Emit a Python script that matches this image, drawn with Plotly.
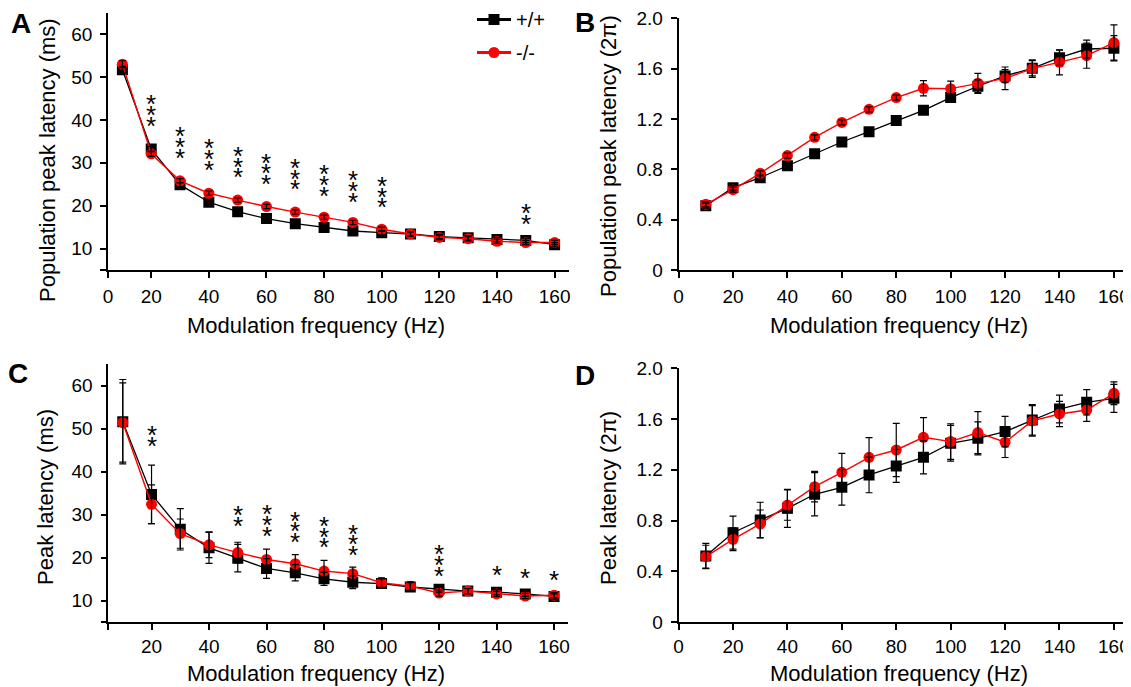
import plotly.graph_objects as go

# ---------------- data ----------------
freqs = [10, 20, 30, 40, 50, 60, 70, 80, 90, 100, 110, 120, 130, 140, 150, 160]

# Panel A: population peak latency (ms)
wt_A = [51.7, 33.2, 24.9, 20.8, 18.6, 17.0, 15.8, 14.9, 14.1, 13.7, 13.4, 12.8, 12.5, 12.1, 11.9, 10.9]
ko_A = [53.0, 32.1, 25.8, 22.9, 21.3, 19.8, 18.5, 17.3, 16.1, 14.5, 13.4, 12.6, 12.3, 11.7, 11.4, 11.4]
wt_A_err = [0.8, 0.6, 0.5, 0.5, 0.5, 0.5, 0.5, 0.5, 0.5, 0.5, 0.5, 0.5, 0.5, 0.5, 0.5, 0.5]
ko_A_err = [0.8, 0.6, 0.5, 0.5, 0.5, 0.5, 0.5, 0.5, 0.5, 0.5, 0.5, 0.5, 0.5, 0.5, 0.5, 0.5]

# Panel B: population peak latency (2pi)
wt_B = [0.511, 0.654, 0.734, 0.829, 0.924, 1.017, 1.099, 1.187, 1.269, 1.370, 1.460, 1.542, 1.603, 1.687, 1.756, 1.762]
ko_B = [0.522, 0.638, 0.768, 0.909, 1.054, 1.173, 1.277, 1.370, 1.444, 1.441, 1.483, 1.523, 1.600, 1.650, 1.703, 1.807]
wt_B_err = [0.02, 0.02, 0.02, 0.02, 0.02, 0.02, 0.02, 0.02, 0.02, 0.03, 0.05, 0.05, 0.06, 0.06, 0.07, 0.10]
ko_B_err = [0.02, 0.02, 0.02, 0.02, 0.02, 0.02, 0.02, 0.02, 0.06, 0.06, 0.08, 0.09, 0.07, 0.10, 0.10, 0.14]

# Panel C: peak latency (ms)
wt_C = [51.6, 34.7, 26.6, 22.3, 19.9, 17.5, 16.5, 15.1, 14.3, 14.0, 13.2, 12.7, 12.25, 12.0, 11.6, 11.0]
ko_C = [51.4, 32.4, 25.6, 23.0, 21.2, 19.6, 18.6, 16.9, 16.3, 14.2, 13.4, 11.8, 12.25, 11.6, 11.1, 11.3]
wt_C_err = [9.8, 6.8, 4.8, 3.6, 3.2, 2.3, 1.9, 1.5, 1.5, 1.1, 1.0, 0.7, 0.6, 0.6, 0.6, 0.6]
ko_C_err = [9.2, 4.5, 3.4, 3.0, 2.4, 2.4, 2.1, 2.5, 1.5, 1.1, 1.0, 0.7, 0.6, 0.6, 0.6, 0.6]

# Panel D: peak latency (2pi)
wt_D = [0.520, 0.704, 0.804, 0.896, 1.007, 1.062, 1.159, 1.230, 1.298, 1.409, 1.448, 1.501, 1.593, 1.679, 1.732, 1.763]
ko_D = [0.515, 0.652, 0.773, 0.922, 1.067, 1.180, 1.298, 1.356, 1.456, 1.422, 1.493, 1.417, 1.585, 1.640, 1.671, 1.803]
wt_D_err = [0.10, 0.13, 0.14, 0.15, 0.17, 0.14, 0.14, 0.13, 0.13, 0.14, 0.13, 0.12, 0.12, 0.11, 0.10, 0.11]
ko_D_err = [0.09, 0.09, 0.11, 0.12, 0.12, 0.15, 0.155, 0.21, 0.155, 0.14, 0.165, 0.12, 0.12, 0.10, 0.09, 0.09]

# significance stars: frequency, number of stars, y of lowest star
sig_A_freq = [20, 30, 40, 50, 60, 70, 80, 90, 100, 150]
sig_A_count = [3, 3, 3, 3, 3, 3, 3, 3, 3, 2]
sig_A_y = [40.0, 32.5, 29.8, 28.0, 26.4, 25.2, 23.7, 22.3, 21.0, 17.1]

sig_C_freq = [20, 50, 60, 70, 80, 90, 120, 140, 150, 160]
sig_C_count = [2, 2, 3, 3, 3, 3, 3, 1, 1, 1]
sig_C_y = [47.3, 28.7, 26.5, 25.0, 23.8, 22.0, 17.2, 17.3, 16.8, 16.3]

# tick labels
ms_ticks = [5, 10, 20, 30, 40, 50, 60]
ms_ticktext = ["", "10", "20", "30", "40", "50", "60"]
pi_ticks = [0, 0.4, 0.8, 1.2, 1.6, 2.0]
pi_ticktext = ["0", "0.4", "0.8", "1.2", "1.6", "2.0"]
fA_ticks = [5, 20, 40, 60, 80, 100, 120, 140, 160]
fA_ticktext = ["0", "20", "40", "60", "80", "100", "120", "140", "160"]
fC_ticktext = ["", "20", "40", "60", "80", "100", "120", "140", "160"]
fB_ticks = [0, 20, 40, 60, 80, 100, 120, 140, 160]
fB_ticktext = ["0", "20", "40", "60", "80", "100", "120", "140", "160"]

WT_NAME = "+/+"
KO_NAME = "-/-"
RED = "#ff0000"
FONT = "Liberation Sans, Arial, Helvetica, sans-serif"

# the page body has an 8px margin, so the figure is drawn 8px smaller
PAGE_OFF = 8
W, H = 1131 - PAGE_OFF, 687 - PAGE_OFF


def px(x):
    return (x - PAGE_OFF) / W


def py(y):
    return 1 - (y - PAGE_OFF) / H


fig = go.Figure()


def add_panel(xa, ya, wt, ko, wt_err, ko_err):
    fig.add_trace(go.Scatter(
        x=freqs, y=wt, mode="lines+markers", showlegend=False,
        line=dict(color="black", width=1.3),
        marker=dict(symbol="square", size=11, color="black"),
        xaxis=xa, yaxis=ya))
    fig.add_trace(go.Scatter(
        x=freqs, y=ko, mode="lines+markers", showlegend=False,
        line=dict(color=RED, width=1.4),
        marker=dict(symbol="circle", size=11, color=RED),
        xaxis=xa, yaxis=ya))
    for vals, err in ((wt, wt_err), (ko, ko_err)):
        fig.add_trace(go.Scatter(
            x=freqs, y=vals, mode="markers", showlegend=False,
            marker=dict(size=1, color="rgba(0,0,0,0)"),
            error_y=dict(type="data", array=err, visible=True,
                         color="black", thickness=1.2, width=3.5),
            xaxis=xa, yaxis=ya))


add_panel("x", "y", wt_A, ko_A, wt_A_err, ko_A_err)
add_panel("x2", "y2", wt_B, ko_B, wt_B_err, ko_B_err)
add_panel("x3", "y3", wt_C, ko_C, wt_C_err, ko_C_err)
add_panel("x4", "y4", wt_D, ko_D, wt_D_err, ko_D_err)

# legend entries
fig.add_trace(go.Scatter(x=[None], y=[None], mode="lines+markers", name=WT_NAME,
                         line=dict(color="black", width=3),
                         marker=dict(symbol="square", size=11, color="black"),
                         legendgroup="wt"))
fig.add_trace(go.Scatter(x=[None], y=[None], mode="lines+markers", name=KO_NAME,
                         line=dict(color=RED, width=3),
                         marker=dict(symbol="circle", size=11, color=RED),
                         legendgroup="ko"))

axis_common = dict(showline=True, linecolor="black", linewidth=1.8,
                   ticks="outside", ticklen=6, tickwidth=1.5, tickcolor="black",
                   showgrid=False, zeroline=False, mirror=False, automargin=False,
                   ticklabeloverflow="allow",
                   tickfont=dict(family=FONT, size=19, color="black"))

# panel pixel boxes in the reference picture: (left, right, top, bottom)
boxes = {
    "A": (108, 569, 12.7, 270),
    "B": (678.6, 1127.5, 18.3, 270),
    "C": (108.4, 568.4, 364, 622.3),
    "D": (678.6, 1127.5, 368.3, 622),
}


def dom_x(b):
    return [px(b[0]), px(b[1])]


def dom_y(b):
    return [py(b[3]), py(b[2])]


fig.update_layout(
    xaxis=dict(axis_common, domain=dom_x(boxes["A"]), anchor="y", range=[5, 165],
               tickvals=fA_ticks, ticktext=fA_ticktext, ticklabelstandoff=2),
    yaxis=dict(axis_common, domain=dom_y(boxes["A"]), anchor="x", range=[5, 65],
               tickvals=ms_ticks, ticktext=ms_ticktext, ticklabelstandoff=4),
    xaxis2=dict(axis_common, domain=dom_x(boxes["B"]), anchor="y2", range=[0, 165],
                tickvals=fB_ticks, ticktext=fB_ticktext, ticklabelstandoff=2),
    yaxis2=dict(axis_common, domain=dom_y(boxes["B"]), anchor="x2", range=[0, 2.0],
                tickvals=pi_ticks, ticktext=pi_ticktext, ticklabelstandoff=4),
    xaxis3=dict(axis_common, domain=dom_x(boxes["C"]), anchor="y3", range=[5, 165],
                tickvals=fA_ticks, ticktext=fC_ticktext, ticklabelstandoff=0),
    yaxis3=dict(axis_common, domain=dom_y(boxes["C"]), anchor="x3", range=[5, 65],
                tickvals=ms_ticks, ticktext=ms_ticktext, ticklabelstandoff=4),
    xaxis4=dict(axis_common, domain=dom_x(boxes["D"]), anchor="y4", range=[0, 165],
                tickvals=fB_ticks, ticktext=fB_ticktext, ticklabelstandoff=0),
    yaxis4=dict(axis_common, domain=dom_y(boxes["D"]), anchor="x4", range=[0, 2.0],
                tickvals=pi_ticks, ticktext=pi_ticktext, ticklabelstandoff=4),
)

annotations = []

# stars
STAR_STEP = 10.8
for xa, ya, fr, cnt, ys in (("x", "y", sig_A_freq, sig_A_count, sig_A_y),
                            ("x3", "y3", sig_C_freq, sig_C_count, sig_C_y)):
    for f, c, y0 in zip(fr, cnt, ys):
        for k in range(c):
            annotations.append(dict(x=f, y=y0, xref=xa, yref=ya, text="*",
                                    showarrow=False, yanchor="middle", xanchor="center",
                                    yshift=k * STAR_STEP - 6,
                                    font=dict(family=FONT, size=26, color="black")))

# panel letters
for letter, lx, ly in (("A", 21, 23), ("B", 585, 22), ("C", 18, 373), ("D", 585, 375)):
    annotations.append(dict(x=px(lx), y=py(ly), xref="paper", yref="paper",
                            text="<b>" + letter + "</b>", showarrow=False,
                            xanchor="center", yanchor="middle",
                            font=dict(family=FONT, size=28, color="black")))

# axis titles
XT = "Modulation frequency (Hz)"
for tx, ty in ((316, 325), (899, 325), (316, 673), (899, 673)):
    annotations.append(dict(x=px(tx), y=py(ty), xref="paper", yref="paper",
                            text=XT, showarrow=False, xanchor="center", yanchor="middle",
                            font=dict(family=FONT, size=22, color="black")))
for txt, tx, ty in (("Population peak latency (ms)", 47, 160),
                    ("Population peak latency (2π)", 608, 156),
                    ("Peak latency (ms)", 45, 497),
                    ("Peak latency (2π)", 608, 498)):
    annotations.append(dict(x=px(tx), y=py(ty), xref="paper", yref="paper",
                            text=txt, showarrow=False, textangle=-90,
                            xanchor="center", yanchor="middle",
                            font=dict(family=FONT, size=22, color="black")))

fig.update_layout(
    width=W, height=H,
    margin=dict(l=0, r=0, t=0, b=0, autoexpand=False),
    paper_bgcolor="white", plot_bgcolor="white",
    font=dict(family=FONT, color="black"),
    annotations=annotations,
    showlegend=True,
    legend=dict(x=px(472), y=py(0), xanchor="left", yanchor="top",
                bgcolor="rgba(0,0,0,0)", borderwidth=0,
                font=dict(family=FONT, size=20, color="black"),
                traceorder="grouped", tracegroupgap=4,
                itemwidth=34),
)

fig.write_html("out.html")
